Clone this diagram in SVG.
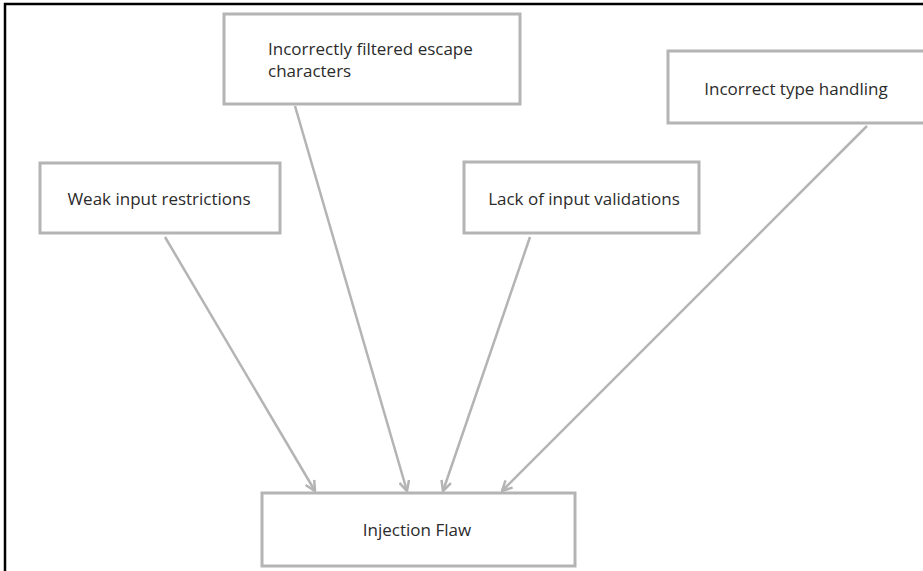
<svg xmlns="http://www.w3.org/2000/svg" width="923" height="571" viewBox="0 0 923 571">
  <style>
    .box { fill: #ffffff; stroke: #b4b4b4; stroke-width: 3; }
    .lbl { font-family: "Open Sans", "Noto Sans", sans-serif; font-size: 17px; fill: #2b2b2b; }
    .edge { stroke: #b4b4b4; stroke-width: 2.5; fill: none; marker-end: url(#arr); }
  </style>
  <defs>
    <marker id="arr" viewBox="0 0 12 12" refX="11" refY="6" markerWidth="12" markerHeight="12" markerUnits="userSpaceOnUse" orient="auto">
      <path d="M1,1 L11,6 L1,11" fill="none" stroke="#b4b4b4" stroke-width="2.5"/>
    </marker>
  </defs>
  <rect x="0" y="0" width="923" height="571" fill="#ffffff"/>
  <path d="M5,571 V4 H923" fill="none" stroke="#000000" stroke-width="2.5"/>
  <g id="edges">
    <line class="edge" x1="165" y1="237" x2="315" y2="491"/>
    <line class="edge" x1="295" y1="106" x2="407" y2="491"/>
    <line class="edge" x1="530" y1="237" x2="443" y2="491"/>
    <line class="edge" x1="867" y1="126" x2="502" y2="491"/>
  </g>
  <g id="escape">
    <rect class="box" x="224" y="14" width="296" height="90"/>
    <text class="lbl" x="268" y="55">Incorrectly filtered escape</text>
    <text class="lbl" x="268" y="77">characters</text>
  </g>
  <g id="type">
    <rect class="box" x="668" y="51" width="270" height="72"/>
    <text class="lbl" x="796" y="95" text-anchor="middle">Incorrect type handling</text>
  </g>
  <g id="weak">
    <rect class="box" x="40" y="163" width="240" height="70"/>
    <text class="lbl" x="159" y="205" text-anchor="middle">Weak input restrictions</text>
  </g>
  <g id="lack">
    <rect class="box" x="464" y="162" width="235" height="71"/>
    <text class="lbl" x="584" y="205" text-anchor="middle">Lack of input validations</text>
  </g>
  <g id="injection">
    <rect class="box" x="262" y="493" width="313" height="73"/>
    <text class="lbl" x="417" y="536" text-anchor="middle">Injection Flaw</text>
  </g>
</svg>
